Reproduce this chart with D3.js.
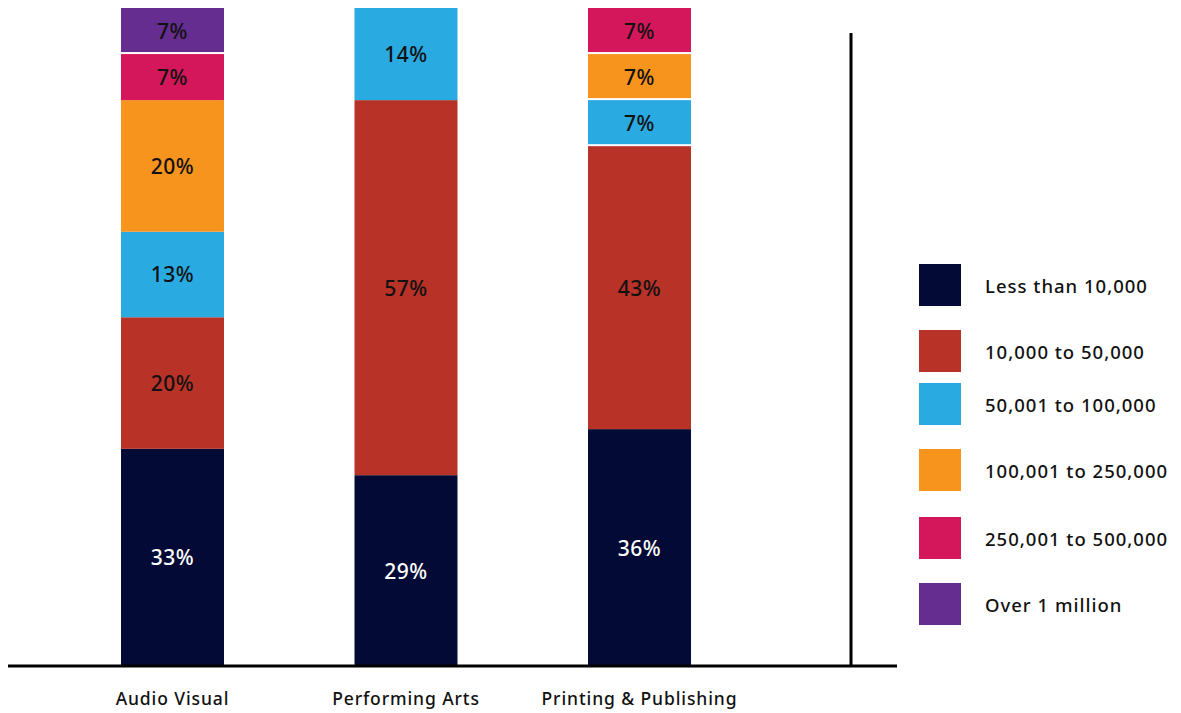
<!DOCTYPE html>
<html>
<head>
<meta charset="utf-8">
<script src="https://cdn.jsdelivr.net/npm/d3@7"></script>
<style>
  html, body { margin: 0; padding: 0; background: #fff; }
  svg { display: block; font-family: "Noto Sans", "Open Sans", sans-serif; }
</style>
</head>
<body>
<svg id="chart" width="1181" height="713"></svg>
<script>
// Share of organisations by annual turnover band, per sector (percent)
const categories = ["Audio Visual", "Performing Arts", "Printing & Publishing"];
const bands = ["Less than 10,000", "10,000 to 50,000", "50,001 to 100,000",
               "100,001 to 250,000", "250,001 to 500,000", "Over 1 million"];
const lessThan10k    = [33, 29, 36];
const from10kTo50k   = [20, 57, 43];
const from50kTo100k  = [13, 14, 7];
const from100kTo250k = [20, 0, 7];
const from250kTo500k = [7, 0, 7];
const over1m         = [7, 0, 0];

const seriesValues = [lessThan10k, from10kTo50k, from50kTo100k, from100kTo250k, from250kTo500k, over1m];
const colors = ["#020a35", "#b83227", "#29aae1", "#f7941e", "#d4175a", "#652d8f"];
const labelColors = ["#ffffff", "#111", "#111", "#111", "#111", "#111"];

const svg = d3.select("#chart");

const rows = categories.map((c, i) => {
  const r = { category: c };
  bands.forEach((b, j) => r[b] = seriesValues[j][i]);
  return r;
});
const stacked = d3.stack().keys(bands)(rows);

const x = d3.scaleBand().domain(categories).range([8, 804]).paddingInner(0.559).paddingOuter(0.484);
const y = d3.scaleLinear().domain([0, 100]).range([666, 8]);

// segment boundaries drawn with a thin white separator
const separated = new Set(["Audio Visual|5", "Printing & Publishing|2", "Printing & Publishing|3", "Printing & Publishing|4"]);

const layers = svg.append("g").selectAll("g").data(stacked).join("g")
  .attr("fill", (d, i) => colors[i]);

layers.each(function(layer, li) {
  const g = d3.select(this);
  const segs = layer.filter(d => d[1] - d[0] > 0);
  g.selectAll("rect").data(segs).join("rect")
    .attr("x", d => x(d.data.category))
    .attr("width", x.bandwidth())
    .attr("y", d => y(d[1]))
    .attr("height", d => {
      const gap = separated.has(d.data.category + "|" + li) ? 2 : 0;
      return y(d[0]) - y(d[1]) - gap;
    });
  g.selectAll("text").data(segs).join("text")
    .attr("x", d => x(d.data.category) + x.bandwidth() / 2)
    .attr("y", d => (y(d[0]) + y(d[1])) / 2)
    .attr("text-anchor", "middle")
    .attr("dominant-baseline", "central")
    .attr("fill", labelColors[li])
    .attr("font-size", 21)
    .attr("font-weight", 500)
    .attr("letter-spacing", 0.6)
    .text(d => (d[1] - d[0]) + "%");
});

// baseline axis with category labels
const xAxis = svg.append("g").attr("transform", "translate(0,666)")
  .call(d3.axisBottom(x).tickSize(0).tickPadding(27));
xAxis.select(".domain").remove();
xAxis.selectAll("text").attr("font-size", 17.5).attr("font-family", "Noto Sans, sans-serif")
  .attr("fill", "#111").attr("font-weight", 500).attr("letter-spacing", 0.9);
svg.append("line").attr("x1", 8).attr("x2", 897).attr("y1", 666).attr("y2", 666)
  .attr("stroke", "#000").attr("stroke-width", 3);
svg.append("line").attr("x1", 851).attr("x2", 851).attr("y1", 33).attr("y2", 666)
  .attr("stroke", "#000").attr("stroke-width", 3);

// legend
const legendY = [285, 351, 404, 470, 538, 604];
const legend = svg.append("g").selectAll("g").data(bands).join("g")
  .attr("transform", (d, i) => `translate(919,${legendY[i]})`);
legend.append("rect").attr("x", 0).attr("y", -21).attr("width", 42).attr("height", 42)
  .attr("fill", (d, i) => colors[i]);
legend.append("text").attr("x", 66).attr("y", 0).attr("dominant-baseline", "central")
  .attr("font-size", 18.5).attr("font-weight", 500).attr("letter-spacing", 1)
  .attr("fill", "#111").text(d => d);
</script>
</body>
</html>
